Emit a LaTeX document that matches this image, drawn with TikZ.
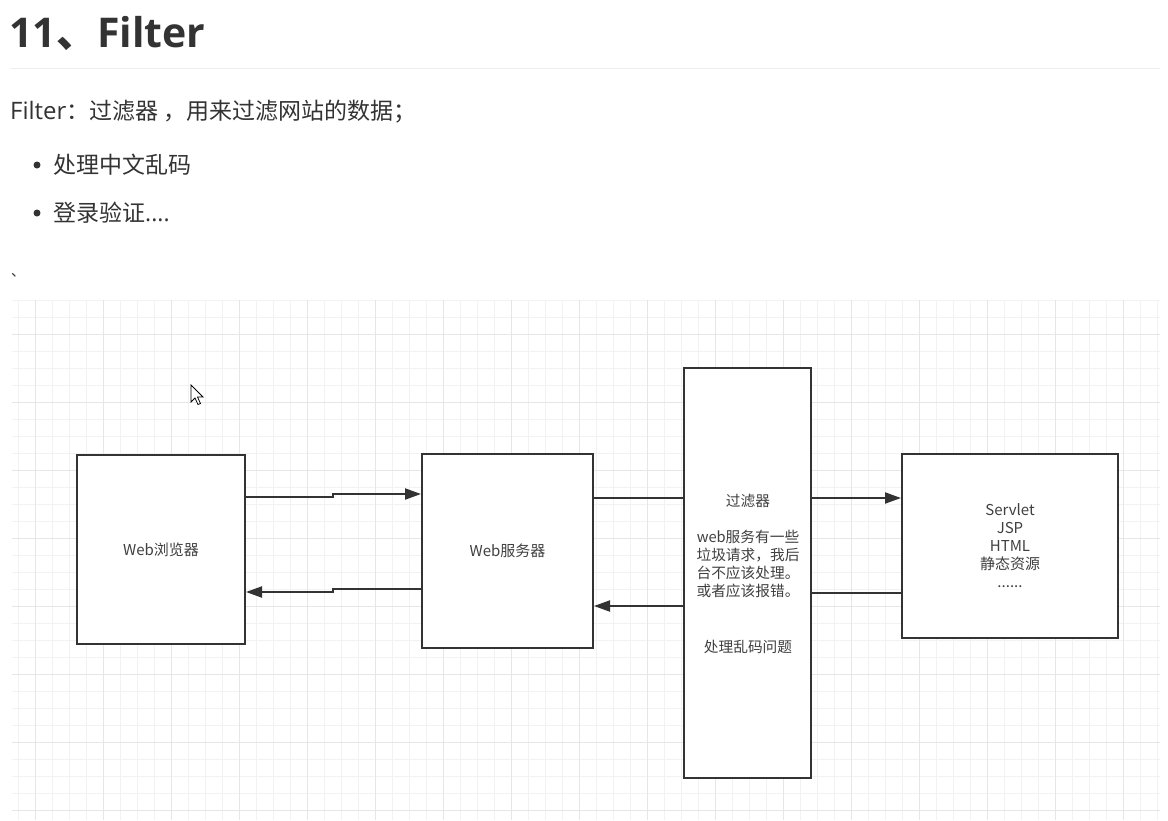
\documentclass[tikz,border=0pt]{standalone}
\usepackage{fontspec}
\setmainfont{Open Sans}
\newfontfamily\cjk{Noto Sans CJK SC}
\usetikzlibrary{arrows.meta}
\definecolor{ink}{HTML}{333333}
\definecolor{txt}{HTML}{404040}
\definecolor{gridA}{HTML}{F2F2F2}
\definecolor{gridB}{HTML}{E6E6E6}
\definecolor{rulec}{HTML}{EEEEEE}
\begin{document}
\begin{tikzpicture}[x=1pt,y=-1pt,
  box/.style={draw=ink,line width=2pt,fill=white,inner sep=0pt,font=\cjk\fontsize{15}{18}\selectfont,text=txt,align=center},
  lbl/.style={inner sep=0pt,font=\cjk\fontsize{14.7}{18}\selectfont,text=txt,align=center},
  conn/.style={draw=ink,line width=2pt},
  arr/.style={conn,-{Triangle[length=16pt,width=11pt]}},
  page/.style={inner sep=0pt,anchor=base west,text=ink}]
\useasboundingbox (0,0) rectangle (1168,820);
\fill[white] (0,0) rectangle (1168,820);
% grid
\foreach \x in {18.3,35.3,...,1160} \draw[gridA,line width=1pt] (\x,300) -- (\x,820);
\foreach \y in {300.3,317.3,...,820} \draw[gridA,line width=1pt] (12,\y) -- (1160,\y);
\foreach \x in {35.3,103.3,...,1160} \draw[gridB,line width=1pt] (\x,300) -- (\x,820);
\foreach \y in {334.3,402.3,...,820} \draw[gridB,line width=1pt] (12,\y) -- (1160,\y);
% page text
\node[page,font=\fontsize{41}{50}\selectfont\bfseries] (title) at (9,47) {11{\cjk 、}Filter};
\draw[rulec,line width=1pt] (10,68) -- (1160,68);
\node[page,font=\fontsize{24}{28}\selectfont] (intro) at (10,119) {Filter{\cjk\fontsize{23}{28}\selectfont ：过滤器 ，用来过滤网站的数据；}};
\fill[ink] (37,165) circle (3.5);
\node[page,font=\fontsize{23}{28}\selectfont] (b1) at (53,173) {\cjk 处理中文乱码};
\fill[ink] (37,213) circle (3.5);
\node[page,font=\fontsize{23}{28}\selectfont] (b2) at (53,221) {{\cjk 登录验证}....};
\node[page,font=\cjk\fontsize{14}{14}\selectfont] (tick) at (11,276) {、};
% cursor
\draw[black,fill=white,line width=0.8pt,line join=miter] (191,385) -- (191,402) -- (195,398) -- (198,404.5) -- (200.5,403.5) -- (197.5,397) -- (203,397) -- cycle;
% boxes
\node[box,minimum width=168,minimum height=189] (browser) at (161,549.5) {Web浏览器};
\node[box,minimum width=171,minimum height=194] (server) at (507.5,551) {Web服务器};
\node[box,minimum width=127,minimum height=410] (filter) at (747.5,573) {};
\node[box,minimum width=216,minimum height=184] (servlet) at (1010,546) {Servlet\\JSP\\HTML\\静态资源\\......};
\node[lbl] (ft1) at (748,501) {过滤器};
\node[lbl] (ft2) at (748,564) {web服务有一些\\垃圾请求，我后\\台不应该处理。\\或者应该报错。};
\node[lbl] (ft3) at (748,647) {处理乱码问题};
% connectors
\coordinate (ya) at (0,497);
\coordinate (yb) at (0,494);
\coordinate (yc) at (0,589);
\coordinate (yd) at (0,592);
\coordinate (ye) at (0,498);
\coordinate (yf) at (0,606);
\coordinate (yg) at (0,593);
\draw[arr] (browser.east |- ya) -- (333,497) -- (333,494) -- (server.west |- yb);
\draw[arr] (server.west |- yc) -- (333,589) -- (333,592) -- (browser.east |- yd);
\draw[conn] (server.east |- ye) -- (filter.west |- ye);
\draw[arr] (filter.west |- yf) -- (server.east |- yf);
\draw[arr] (filter.east |- ye) -- (servlet.west |- ye);
\draw[conn] (servlet.west |- yg) -- (filter.east |- yg);
\end{tikzpicture}
\end{document}
